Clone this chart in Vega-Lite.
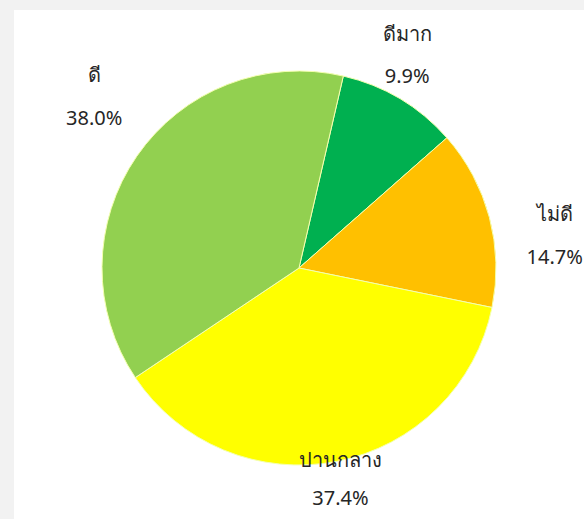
{
  "$schema": "https://vega.github.io/schema/vega-lite/v6.json",
  "width": 570,
  "height": 516,
  "autosize": "none",
  "padding": {"left": 14, "top": 10, "right": 0, "bottom": 0},
  "background": "#F2F2F2",
  "view": {"fill": "white", "stroke": null},
  "data": {
    "values": [
      {"category": "ดีมาก", "share": 0.099},
      {"category": "ไม่ดี", "share": 0.147},
      {"category": "ปานกลาง", "share": 0.374},
      {"category": "ดี", "share": 0.380}
    ]
  },
  "transform": [
    {"window": [{"op": "row_number", "as": "rank"}]},
    {"calculate": "datum.category + '\\n' + format(datum.share, '.1%')", "as": "label"}
  ],
  "encoding": {
    "theta": {
      "field": "share",
      "type": "quantitative",
      "stack": true,
      "scale": {"range": [0.2269, 6.5101]}
    },
    "order": {"field": "rank", "type": "quantitative"}
  },
  "layer": [
    {
      "mark": {"type": "arc", "outerRadius": 197, "stroke": "#F4FFB0", "strokeWidth": 1},
      "encoding": {
        "color": {
          "field": "category",
          "type": "nominal",
          "scale": {
            "domain": ["ดีมาก", "ไม่ดี", "ปานกลาง", "ดี"],
            "range": ["#00B050", "#FFC000", "#FFFF00", "#92D050"]
          },
          "legend": null
        }
      }
    },
    {
      "mark": {"type": "text", "font": "Noto Sans", "fontSize": 20, "lineBreak": "\n", "lineHeight": 42, "dy": -21, "color": "#262626", "radius": 238, "thetaOffset": -0.066},
      "encoding": {
        "text": {"condition": {"test": "datum.category == 'ดีมาก'", "field": "label"}, "value": ""}
      }
    },
    {
      "mark": {"type": "text", "font": "Noto Sans", "fontSize": 20, "lineBreak": "\n", "lineHeight": 43, "dy": -19, "color": "#262626", "radius": 258, "thetaOffset": 0.126},
      "encoding": {
        "text": {"condition": {"test": "datum.category == 'ไม่ดี'", "field": "label"}, "value": ""}
      }
    },
    {
      "mark": {"type": "text", "font": "Noto Sans", "fontSize": 20, "lineBreak": "\n", "lineHeight": 38, "dy": -18, "color": "#262626", "radius": 215},
      "encoding": {
        "text": {"condition": {"test": "datum.category == 'ปานกลาง'", "field": "label"}, "value": ""}
      }
    },
    {
      "mark": {"type": "text", "font": "Noto Sans", "fontSize": 20, "lineBreak": "\n", "lineHeight": 43, "dy": -24, "color": "#262626", "radius": 265, "thetaOffset": 0.084},
      "encoding": {
        "text": {"condition": {"test": "datum.category == 'ดี'", "field": "label"}, "value": ""}
      }
    }
  ]
}
